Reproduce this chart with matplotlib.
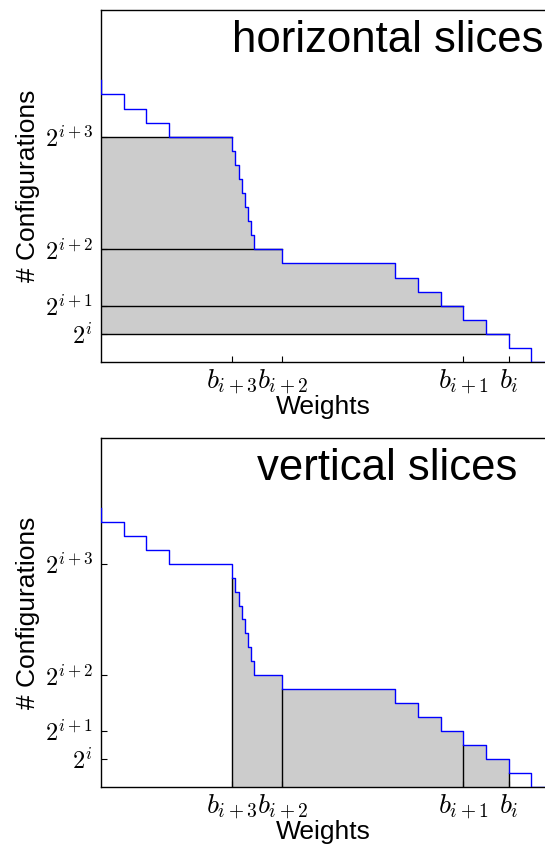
import numpy as np
import matplotlib
matplotlib.use("Agg")
import matplotlib.pyplot as plt

plt.rcParams['font.family'] = ['Liberation Sans', 'DejaVu Sans']
plt.rcParams['mathtext.fontset'] = 'cm'

# step curve: weight at which each count level starts
weights = [0, 0, 1, 2, 3, 5.78, 5.93, 6.08, 6.21, 6.37, 6.50, 6.62, 6.77, 8.0,
           13, 14, 15, 16, 17, 18, 19, 20]
counts = [20, 19, 18, 17, 16, 15, 14, 13, 12, 11, 10, 9, 8, 7,
          6, 5, 4, 3, 2, 1, 0, 0]

ytick_vals = [2, 4, 8, 16]
ytick_labels = [r'$2^{i}$', r'$2^{i+1}$', r'$2^{i+2}$', r'$2^{i+3}$']
xtick_vals = [5.78, 8.0, 16, 18]
xtick_labels = [r'$b_{i+3}$', r'$b_{i+2}$', r'$b_{i+1}$', r'$b_i$']

titles = ['horizontal slices', 'vertical slices']

x = np.array(weights)
y = np.array(counts, dtype=float)

def curve_at(xv):
    idx = np.searchsorted(x, xv, side='right') - 1
    return y[idx]

fig = plt.figure(figsize=(5.45, 8.46), dpi=100)
W, H = 545, 846
ax1 = fig.add_axes([101 / W, 1 - 362 / H, 1 - 101 / W, 352 / H])
ax2 = fig.add_axes([101 / W, 1 - 787 / H, 1 - 101 / W, 349 / H])

gray = '#cccccc'

# horizontal slices
lo, hi = ytick_vals[0], ytick_vals[-1]
ax1.fill_between(x, np.clip(y, lo, hi), lo, step='post', color=gray, lw=0)
for lv in ytick_vals:
    xe = x[np.argmax(y < lv)]
    ax1.plot([0, xe], [lv, lv], color='black', lw=1.0)

# vertical slices
xl, xr = xtick_vals[0], xtick_vals[-1]
mask_x = np.concatenate([[xl], x[(x > xl) & (x < xr)], [xr]])
mask_y = np.array([curve_at(v) for v in mask_x])
ax2.fill_between(mask_x, mask_y, 0, step='post', color=gray, lw=0)
for xv in xtick_vals:
    ax2.plot([xv, xv], [0, curve_at(xv)], color='black', lw=1.0)

for ax, title in zip([ax1, ax2], titles):
    ax.step(x, y, where='post', color='#0000ff', lw=1.0, zorder=5)
    ax.set_xlim(0, 444 / 22.65)
    ax.set_ylim(0, 25)
    ax.spines['right'].set_visible(False)
    for s in ['left', 'bottom', 'top']:
        ax.spines[s].set_linewidth(1.0)
    ax.set_yticks(ytick_vals)
    ax.set_yticklabels(ytick_labels, fontsize=17.5)
    ax.set_xticks(xtick_vals)
    ax.set_xticklabels(xtick_labels, fontsize=20)
    ax.tick_params(direction='in', length=4, width=0.8, top=False, right=False)
    ax.tick_params(axis='y', pad=6)
    ax.tick_params(axis='x', pad=4)
    ax.set_xlabel('Weights', fontsize=19, labelpad=-1)
    ax.set_ylabel('# Configurations', fontsize=19, labelpad=3)
    ax.text(0.645, 1 - 10 / 352, title, transform=ax.transAxes, ha='center',
            va='top', fontsize=31.5)

fig.savefig('out.png', dpi=100)
